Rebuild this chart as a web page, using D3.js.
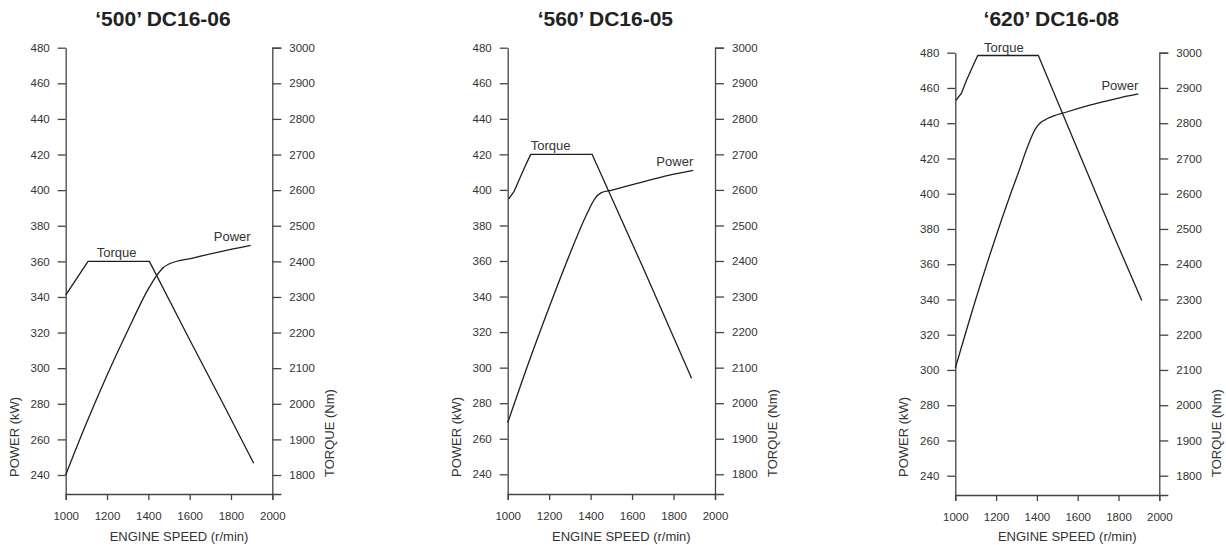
<!DOCTYPE html>
<html>
<head>
<meta charset="utf-8">
<script src="https://cdn.jsdelivr.net/npm/d3@7/dist/d3.min.js"></script>
<style>
  html, body { margin: 0; padding: 0; background: #fff; }
  svg { display: block; font-family: "Liberation Sans", Arial, Helvetica, sans-serif; }
  .axis .domain, .axis line { stroke: #444; stroke-width: 1.3; }
  .axis text { font-size: 11.5px; fill: #333; font-family: "Liberation Sans", Arial, sans-serif; }
  .title { font-size: 21px; font-weight: bold; fill: #222; }
  .axlabel { font-size: 13px; fill: #333; }
  .curve { fill: none; stroke: #1e1e1e; stroke-width: 1.3; stroke-linejoin: round; }
  .curvelabel { font-size: 13px; fill: #333; }
</style>
</head>
<body>
<svg id="chart" width="1226" height="545"></svg>
<script>
// ---- Data ----
const titles = ["\u2018500\u2019 DC16-06", "\u2018560\u2019 DC16-05", "\u2018620\u2019 DC16-08"];
const rpmTicks = [1000, 1200, 1400, 1600, 1800, 2000];
const powerTicks = [240, 260, 280, 300, 320, 340, 360, 380, 400, 420, 440, 460, 480];
const torqueTicks = [1800, 1900, 2000, 2100, 2200, 2300, 2400, 2500, 2600, 2700, 2800, 2900, 3000];

// '500' DC16-06
const power500Rpm = [1000, 1100, 1200, 1300, 1400, 1440, 1470, 1500, 1620, 1750, 1895];
const power500Kw  = [240, 269, 296, 321, 344.5, 352, 356.3, 358.5, 362, 365.5, 369];
const torque500Rpm = [1000, 1108, 1405, 1600, 1760, 1910];
const torque500Nm  = [2305, 2400, 2400, 2180, 2002, 1833];

// '560' DC16-05
const power560Rpm = [1000, 1100, 1200, 1300, 1380, 1420, 1450, 1500, 1620, 1780, 1895];
const power560Kw  = [269, 302.5, 334, 364, 386, 395, 398.3, 399.8, 403.5, 408.3, 411];
const torque560Rpm = [1005, 1030, 1060, 1085, 1111, 1407, 1650, 1887];
const torque560Nm  = [2575, 2595, 2635, 2668, 2700, 2700, 2385, 2070];

// '620' DC16-08
const power620Rpm = [1000, 1100, 1200, 1300, 1400, 1420, 1450, 1550, 1650, 1790, 1897];
const power620Kw  = [301, 340, 376, 409, 438, 440.5, 442.5, 446.5, 450, 454, 456.6];
const torque620Rpm = [1003, 1030, 1056, 1083, 1110, 1407, 1600, 1770, 1914];
const torque620Nm  = [2865, 2885, 2923, 2958, 2992, 2992, 2725, 2490, 2297];

const powerRpm = [power500Rpm, power560Rpm, power620Rpm];
const powerKw = [power500Kw, power560Kw, power620Kw];
const torqueRpm = [torque500Rpm, torque560Rpm, torque620Rpm];
const torqueNm = [torque500Nm, torque560Nm, torque620Nm];

// ---- Layout (pixels) ----
const layout = [
  { left: 65.7, right: 272.3, yTop: 47.7, yLow: 475, bottom: 494, torqueLabelRpm: 1150 },
  { left: 507.7, right: 715, yTop: 47.7, yLow: 474.3, bottom: 494, torqueLabelRpm: 1111 },
  { left: 955.3, right: 1159.3, yTop: 52.7, yLow: 475.7, bottom: 495, torqueLabelRpm: 1141 }
];

const svg = d3.select("#chart");

layout.forEach((L, i) => {
  const g = svg.append("g");
  const x = d3.scaleLinear().domain([1000, 2000]).range([L.left, L.right]);

  const yP0 = d3.scaleLinear().domain([240, 480]).range([L.yLow, L.yTop]);
  const yP = d3.scaleLinear().domain([yP0.invert(L.bottom), 480]).range([L.bottom, L.yTop]);
  const yT0 = d3.scaleLinear().domain([1800, 3000]).range([L.yLow, L.yTop]);
  const yT = d3.scaleLinear().domain([yT0.invert(L.bottom), 3000]).range([L.bottom, L.yTop]);

  // axes
  g.append("g").attr("class", "axis")
    .attr("transform", `translate(${L.left},0)`)
    .call(d3.axisLeft(yP).tickValues(powerTicks).tickSize(8).tickSizeOuter(0).tickPadding(8).tickFormat(d3.format("d")));

  g.append("g").attr("class", "axis")
    .attr("transform", `translate(${L.right},0)`)
    .call(d3.axisRight(yT).tickValues(torqueTicks).tickSize(9).tickSizeOuter(9).tickPadding(8).tickFormat(d3.format("d")));

  g.append("g").attr("class", "axis")
    .attr("transform", `translate(0,${L.bottom})`)
    .call(d3.axisBottom(x).tickValues(rpmTicks).tickSize(6).tickSizeOuter(6).tickPadding(12).tickFormat(d3.format("d")));

  // title
  const cx = (L.left + L.right) / 2;
  g.append("text").attr("class", "title")
    .attr("x", cx - 6).attr("y", 26).attr("text-anchor", "middle")
    .text(titles[i]);

  // axis labels
  g.append("text").attr("class", "axlabel")
    .attr("x", cx + 10).attr("y", 541).attr("text-anchor", "middle")
    .text("ENGINE SPEED (r/min)");
  g.append("text").attr("class", "axlabel")
    .attr("transform", `translate(${L.left - 47},477) rotate(-90)`)
    .attr("text-anchor", "start")
    .text("POWER (kW)");
  g.append("text").attr("class", "axlabel")
    .attr("transform", `translate(${L.right + 62},477) rotate(-90)`)
    .attr("text-anchor", "start")
    .text("TORQUE (Nm)");

  // curves
  const pData = d3.zip(powerRpm[i], powerKw[i]);
  const tData = d3.zip(torqueRpm[i], torqueNm[i]);
  const pLine = d3.line().x(d => x(d[0])).y(d => yP(d[1])).curve(d3.curveMonotoneX);
  const tLine = d3.line().x(d => x(d[0])).y(d => yT(d[1]));
  g.append("path").attr("class", "curve").attr("d", pLine(pData));
  g.append("path").attr("class", "curve").attr("d", tLine(tData));

  // curve labels
  const pLast = pData[pData.length - 1];
  g.append("text").attr("class", "curvelabel")
    .attr("x", x(pLast[0])).attr("y", yP(pLast[1]) - 4)
    .attr("text-anchor", "end").text("Power");
  const tPeak = d3.max(torqueNm[i]);
  g.append("text").attr("class", "curvelabel")
    .attr("x", x(L.torqueLabelRpm)).attr("y", yT(tPeak) - 4)
    .attr("text-anchor", "start").text("Torque");
});
</script>
</body>
</html>
